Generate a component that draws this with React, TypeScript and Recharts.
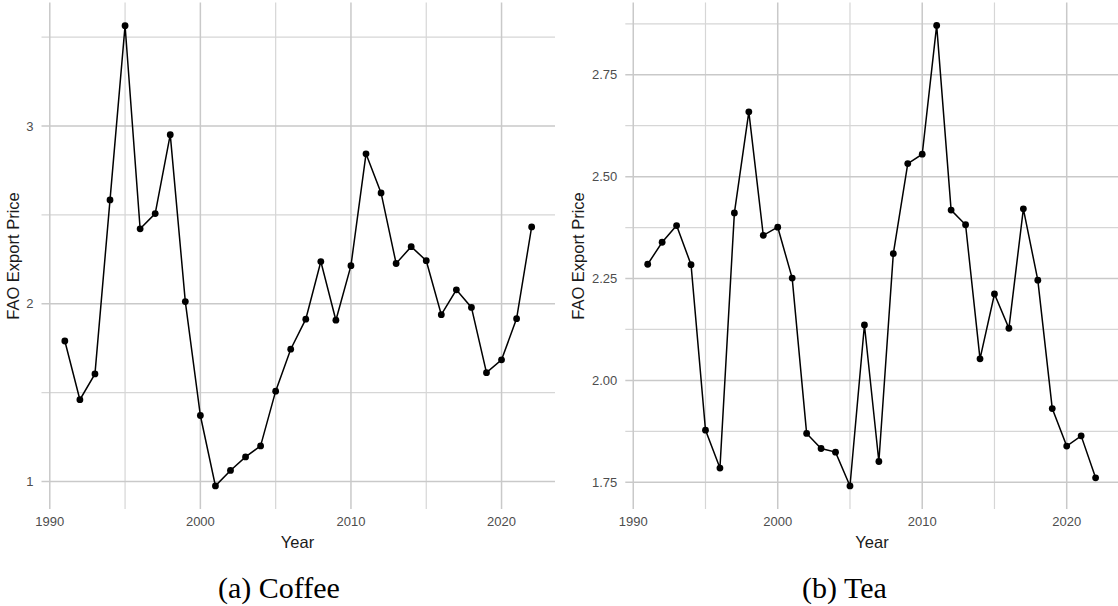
import React from 'react';
import { LineChart, Line, XAxis, YAxis, ReferenceLine } from 'recharts';

const years = [
  1991, 1992, 1993, 1994, 1995, 1996, 1997, 1998, 1999, 2000, 2001, 2002, 2003, 2004, 2005, 2006,
  2007, 2008, 2009, 2010, 2011, 2012, 2013, 2014, 2015, 2016, 2017, 2018, 2019, 2020, 2021, 2022,
];

const coffeePrice = [
  1.79, 1.46, 1.605, 2.584, 3.564, 2.421, 2.507, 2.951, 2.012, 1.371, 0.975, 1.062, 1.138, 1.2, 1.508, 1.744,
  1.913, 2.237, 1.907, 2.214, 2.843, 2.623, 2.226, 2.321, 2.242, 1.938, 2.078, 1.979, 1.612, 1.684, 1.916, 2.432,
];

const teaPrice = [
  2.285, 2.339, 2.38, 2.284, 1.878, 1.785, 2.411, 2.659, 2.356, 2.376, 2.251, 1.87, 1.833, 1.824, 1.741, 2.136,
  1.801, 2.311, 2.532, 2.555, 2.871, 2.418, 2.382, 2.053, 2.212, 2.128, 2.421, 2.246, 1.931, 1.839, 1.864, 1.761,
];

const xTicks = [1990, 2000, 2010, 2020];
const xMinor = [1995, 2005, 2015];

const coffeeTicks = [1, 2, 3];
const coffeeMinor = [1.5, 2.5, 3.5];

const teaTicks = [1.75, 2.0, 2.25, 2.5, 2.75];
const teaMinor = [1.875, 2.125, 2.375, 2.625, 2.875];

const coffeeData = years.map((y, i) => ({ year: y, price: coffeePrice[i] }));
const teaData = years.map((y, i) => ({ year: y, price: teaPrice[i] }));

const sans = '"Liberation Sans", Arial, Helvetica, sans-serif';
const MAJOR = '#c9c9c9';
const MINOR = '#d6d6d6';

interface PanelProps {
  data: { year: number; price: number }[];
  width: number;
  rightMargin: number;
  yAxisWidth: number;
  yDomain: [number, number];
  yTicks: number[];
  yMinor: number[];
  fmt: (v: number) => string;
}

const Panel: React.FC<PanelProps> = ({ data, width, rightMargin, yAxisWidth, yDomain, yTicks, yMinor, fmt }) => (
  <LineChart
    width={width}
    height={606}
    data={data}
    margin={{ top: 2.4, right: rightMargin, left: 0, bottom: 67 }}
  >
    <XAxis
      dataKey="year"
      type="number"
      domain={[1989.45, 2023.55]}
      ticks={xTicks}
      axisLine={false}
      tickLine={false}
      height={30}
      tick={{ fill: '#4d4d4d', fontSize: 13, fontFamily: sans }}
    />
    <YAxis
      type="number"
      domain={yDomain}
      ticks={yTicks}
      width={yAxisWidth}
      axisLine={false}
      tickLine={false}
      tickFormatter={fmt}
      tick={{ fill: '#4d4d4d', fontSize: 13, fontFamily: sans }}
    />
    {xMinor.map((v) => (
      <ReferenceLine key={'xm' + v} x={v} stroke={MINOR} strokeWidth={1.2} />
    ))}
    {yMinor.map((v) => (
      <ReferenceLine key={'ym' + v} y={v} stroke={MINOR} strokeWidth={1.2} />
    ))}
    {xTicks.map((v) => (
      <ReferenceLine key={'x' + v} x={v} stroke={MAJOR} strokeWidth={1.5} />
    ))}
    {yTicks.map((v) => (
      <ReferenceLine key={'y' + v} y={v} stroke={MAJOR} strokeWidth={1.5} />
    ))}
    <Line
      type="linear"
      dataKey="price"
      stroke="#000"
      strokeWidth={1.5}
      dot={{ r: 3.4, fill: '#000', stroke: '#000', strokeWidth: 0 }}
      isAnimationActive={false}
    />
  </LineChart>
);

const textStyle: React.CSSProperties = {
  position: 'absolute',
  fontFamily: sans,
  fontSize: 16.5,
  color: '#1a1a1a',
  whiteSpace: 'nowrap',
  lineHeight: 1,
};

const captionStyle: React.CSSProperties = {
  position: 'absolute',
  fontFamily: '"Liberation Serif", "DejaVu Serif", serif',
  fontSize: 30,
  color: '#000',
  whiteSpace: 'nowrap',
  lineHeight: 1,
  transform: 'translate(-50%, -50%)',
};

export default function App() {
  return (
    <div style={{ position: 'absolute', left: 0, top: 0, width: 1118, height: 606, background: '#fff', overflow: 'hidden' }}>
      <div style={{ position: 'absolute', left: 0, top: 0 }}>
        <Panel
          data={coffeeData}
          width={560}
          rightMargin={5}
          yAxisWidth={41.5}
          yDomain={[0.845, 3.695]}
          yTicks={coffeeTicks}
          yMinor={coffeeMinor}
          fmt={(v) => String(v)}
        />
      </div>
      <div style={{ position: 'absolute', left: 560, top: 0 }}>
        <Panel
          data={teaData}
          width={558}
          rightMargin={0}
          yAxisWidth={65.3}
          yDomain={[1.6845, 2.9275]}
          yTicks={teaTicks}
          yMinor={teaMinor}
          fmt={(v) => v.toFixed(2)}
        />
      </div>

      <div style={{ ...textStyle, left: 297.5, top: 542, transform: 'translate(-50%, -50%)' }}>Year</div>
      <div style={{ ...textStyle, left: 872, top: 542, transform: 'translate(-50%, -50%)' }}>Year</div>

      <div style={{ ...textStyle, left: 12.5, top: 255.5, transform: 'translate(-50%, -50%) rotate(-90deg)' }}>
        FAO Export Price
      </div>
      <div style={{ ...textStyle, left: 578, top: 255.5, transform: 'translate(-50%, -50%) rotate(-90deg)' }}>
        FAO Export Price
      </div>

      <div style={{ ...captionStyle, left: 279, top: 588 }}>(a) Coffee</div>
      <div style={{ ...captionStyle, left: 844.5, top: 588 }}>(b) Tea</div>
    </div>
  );
}
